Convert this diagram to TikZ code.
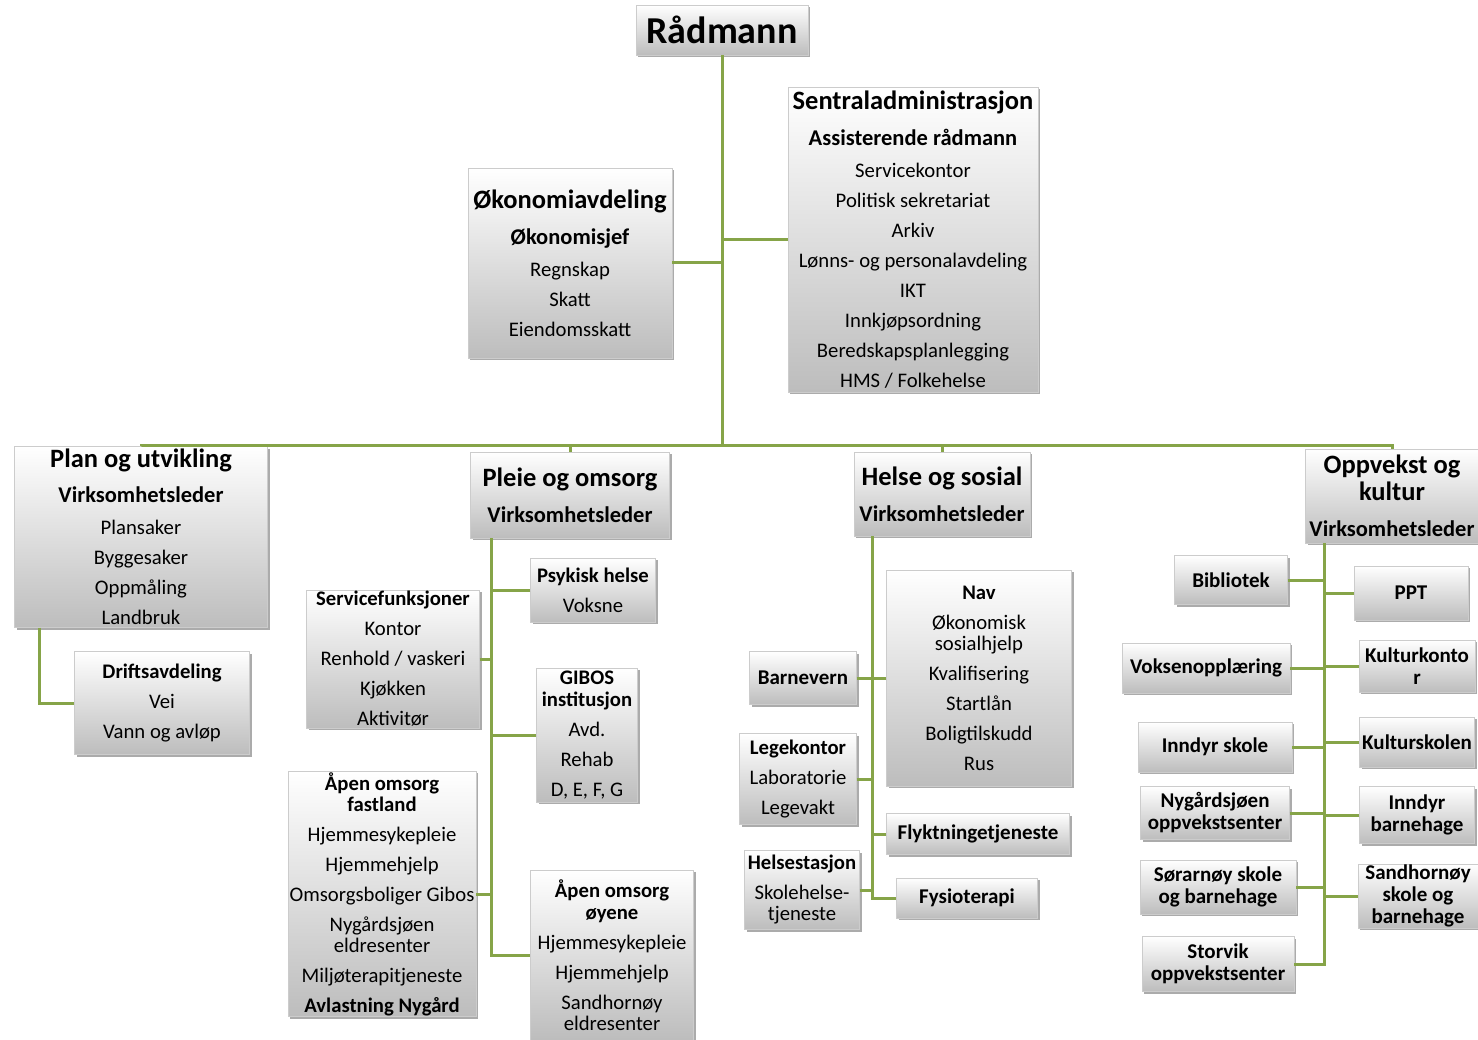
\documentclass[tikz,border=0pt]{standalone}
\usepackage{fontspec}
\setmainfont{Carlito}
\usetikzlibrary{shadows}
\definecolor{linkgreen}{RGB}{134,164,72}
\tikzstyle{block} = [rectangle, draw=black!20, top color=white, bottom color=black!26,
  drop shadow={shadow xshift=2pt, shadow yshift=-2pt, opacity=0.55, fill=black!60},
  align=center, inner sep=1pt, font=\fontsize{20.7}{30}\selectfont]
\tikzstyle{unit} = [block, font=\fontsize{21}{22}\selectfont\bfseries]
\tikzstyle{link} = [draw=linkgreen, line width=3pt]
\newcommand{\hd}[1]{{\fontsize{26.5}{30}\selectfont\bfseries #1}}
\newcommand{\lead}[1]{{\fontsize{22.5}{30}\selectfont\bfseries #1}}

\begin{document}
\begin{tikzpicture}[x=1pt, y=-1pt]
\fill[white] (0,0) rectangle (1478,1040);
\useasboundingbox (0,0) rectangle (1478,1040);

    % top level
    \node [block, minimum width=172, minimum height=50, font=\fontsize{38}{40}\selectfont\bfseries] (rad) at (722,30) {Rådmann};
    \node [block, minimum width=204, minimum height=190] (okon) at (570,263)
      {\hd{Økonomiavdeling}\\[6pt]\lead{Økonomisjef}\\[2pt]Regnskap\\Skatt\\Eiendomsskatt};
    \node [block, minimum width=250, minimum height=305] (sentral) at (913,240)
      {\hd{Sentraladministrasjon}\\[6pt]\lead{Assisterende rådmann}\\[2pt]Servicekontor\\Politisk sekretariat\\Arkiv\\Lønns- og personalavdeling\\IKT\\Innkjøpsordning\\Beredskapsplanlegging\\HMS / Folkehelse};
    \coordinate (bus) at (722,445);

    % Plan og utvikling
    \node [block, minimum width=253, minimum height=181] (plan) at (141,537)
      {\hd{Plan og utvikling}\\[5pt]\lead{Virksomhetsleder}\\[2pt]Plansaker\\Byggesaker\\Oppmåling\\Landbruk};
    \node [block, minimum width=175, minimum height=103] (drift) at (162,703)
      {\textbf{Driftsavdeling}\\Vei\\Vann og avløp};

    % Pleie og omsorg
    \node [block, minimum width=199, minimum height=86] (pleie) at (570,495)
      {\hd{Pleie og omsorg}\\[6pt]\lead{Virksomhetsleder}};
    \coordinate (pspine) at (491,538);
    \node [block, minimum width=125, minimum height=64] (psyk) at (593,590)
      {\textbf{Psykisk helse}\\Voksne};
    \node [block, minimum width=173, minimum height=138] (service) at (393,659)
      {\textbf{Servicefunksjoner}\\Kontor\\Renhold / vaskeri\\Kjøkken\\Aktivitør};
    \node [block, minimum width=101, minimum height=134] (gibos) at (587,735)
      {\textbf{GIBOS}\\[-8pt]\textbf{institusjon}\\Avd.\\Rehab\\D, E, F, G};
    \node [block, minimum width=188, minimum height=242] (fastland) at (382,894)
      {\textbf{Åpen omsorg}\\[-9pt]\textbf{fastland}\\Hjemmesykepleie\\Hjemmehjelp\\Omsorgsboliger Gibos\\Nygårdsjøen\\[-9pt]eldresenter\\Miljøterapitjeneste\\\textbf{Avlastning Nygård}};
    \node [block, minimum width=163, minimum height=170] (oyene) at (612,955)
      {\textbf{Åpen omsorg}\\[-8pt]\textbf{øyene}\\Hjemmesykepleie\\Hjemmehjelp\\Sandhornøy\\[-9pt]eldresenter};

    % Helse og sosial
    \node [block, minimum width=176, minimum height=84] (helse) at (942,494)
      {\hd{Helse og sosial}\\[6pt]\lead{Virksomhetsleder}};
    \coordinate (hspine) at (872,536);
    \node [block, minimum width=185, minimum height=216] (nav) at (979,678)
      {\textbf{Nav}\\Økonomisk\\[-9pt]sosialhjelp\\Kvalifisering\\Startlån\\Boligtilskudd\\Rus};
    \node [unit, minimum width=107, minimum height=53] (barnevern) at (803,678) {Barnevern};
    \node [block, minimum width=117, minimum height=91] (lege) at (798,779)
      {\textbf{Legekontor}\\Laboratorie\\Legevakt};
    \node [unit, minimum width=183, minimum height=41] (flykt) at (978,834) {Flyktningetjeneste};
    \node [block, minimum width=115, minimum height=79] (helsest) at (802,890)
      {\textbf{Helsestasjon}\\Skolehelse-\\[-9pt]tjeneste};
    \node [unit, minimum width=141, minimum height=40] (fysio) at (967,898) {Fysioterapi};

    % Oppvekst og kultur
    \node [block, minimum width=173, minimum height=94] (oppv) at (1392,496)
      {\hd{Oppvekst og}\\[-3pt]\hd{kultur}\\[6pt]\lead{Virksomhetsleder}};
    \coordinate (ospine) at (1324,543);
    \node [unit, minimum width=113, minimum height=49] (bibl) at (1231,580) {Bibliotek};
    \node [unit, minimum width=168, minimum height=50] (voksen) at (1206,668) {Voksenopplæring};
    \node [unit, minimum width=154, minimum height=50] (iskole) at (1215,747) {Inndyr skole};
    \node [unit, minimum width=149, minimum height=53] (nygard) at (1215,813) {Nygårdsjøen\\oppvekstsenter};
    \node [unit, minimum width=156, minimum height=54] (sorarn) at (1218,887) {Sørarnøy skole\\og barnehage};
    \node [unit, minimum width=152, minimum height=55] (storvik) at (1218,964) {Storvik\\oppvekstsenter};
    \node [unit, minimum width=114, minimum height=54] (ppt) at (1411,593) {PPT};
    \node [unit, minimum width=116, minimum height=52] (kkontor) at (1417,666) {Kulturkonto\\r};
    \node [unit, minimum width=115, minimum height=50] (kskole) at (1417,742) {Kulturskolen};
    \node [unit, minimum width=115, minimum height=57] (ibhage) at (1417,815) {Inndyr\\barnehage};
    \node [unit, minimum width=120, minimum height=62] (sandh) at (1418,896) {Sandhornøy\\skole og\\barnehage};

    % connectors
    \draw [link] (rad) -- (bus);
    \draw [link] (okon.east) -- (okon.east -| bus);
    \draw [link] (sentral.west) -- (sentral.west -| bus);
    \draw [link] (plan.north) |- (bus) -| (oppv.north);
    \draw [link] (bus) -| (pleie.north);
    \draw [link] (bus) -| (helse.north);
    \draw [link] ([xshift=25pt]plan.south west) |- (drift.west);

    \draw [link] (pspine) |- (oyene.west);
    \draw [link] (psyk.west) -- (psyk.west -| pspine);
    \draw [link] (service.east) -- (service.east -| pspine);
    \draw [link] (gibos.west) -- (gibos.west -| pspine);
    \draw [link] (fastland.east) -- (fastland.east -| pspine);

    \draw [link] (hspine) |- (fysio.west);
    \draw [link] (nav.west) -- (nav.west -| hspine);
    \draw [link] (barnevern.east) -- (barnevern.east -| hspine);
    \draw [link] (lege.east) -- (lege.east -| hspine);
    \draw [link] (flykt.west) -- (flykt.west -| hspine);
    \draw [link] (helsest.east) -- (helsest.east -| hspine);

    \draw [link] (ospine) |- (storvik.east);
    \draw [link] (bibl.east) -- (bibl.east -| ospine);
    \draw [link] (voksen.east) -- (voksen.east -| ospine);
    \draw [link] (iskole.east) -- (iskole.east -| ospine);
    \draw [link] (nygard.east) -- (nygard.east -| ospine);
    \draw [link] (sorarn.east) -- (sorarn.east -| ospine);
    \draw [link] (ppt.west) -- (ppt.west -| ospine);
    \draw [link] (kkontor.west) -- (kkontor.west -| ospine);
    \draw [link] (kskole.west) -- (kskole.west -| ospine);
    \draw [link] (ibhage.west) -- (ibhage.west -| ospine);
    \draw [link] (sandh.west) -- (sandh.west -| ospine);

\end{tikzpicture}
\end{document}
